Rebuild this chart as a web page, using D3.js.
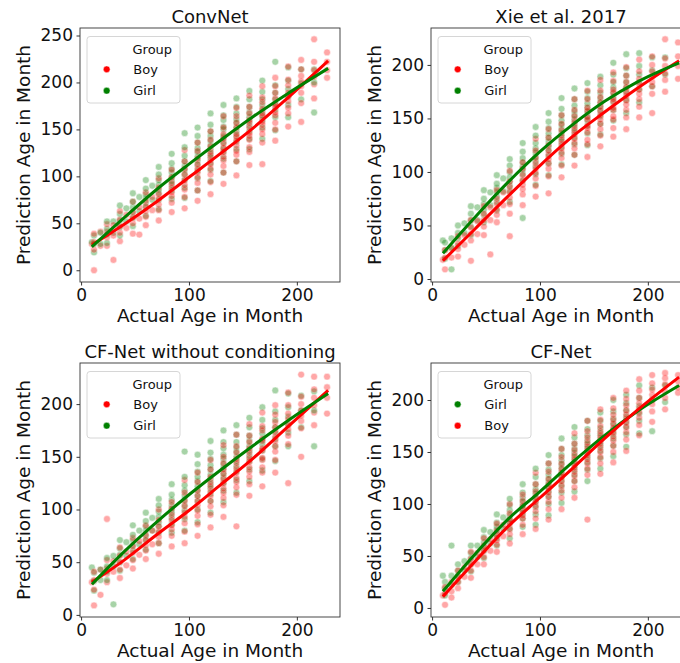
<!DOCTYPE html>
<html>
<head>
<meta charset="utf-8">
<title>Prediction vs actual age by group</title>
<style>
  html, body { margin: 0; padding: 0; background: #fff; }
  svg { display: block; }
  text { font-family: "DejaVu Sans", sans-serif; fill: #111; }
</style>
</head>
<body>
<svg id="chart" width="680" height="663"></svg>
<script src="https://d3js.org/d3.v7.min.js"></script>
<script>
// --- data: each row is [actual age, predicted ages...] ---
const AGE_LIM = [-1, 240];
const X_TICKS = [0, 100, 200];

const CONVNET_BOY = [
  [10, 28], [12, 0, 22, 30, 39], [18, 26, 41], [24, 26, 35, 41, 49], [30, 11, 37, 48],
  [36, 31, 40, 47, 54, 63], [42, 45, 59], [48, 39, 50, 56, 62, 73], [54, 38, 55, 67],
  [60, 48, 57, 63, 68, 74, 83], [66, 64, 78], [72, 53, 64, 70, 76, 81, 88, 98],
  [84, 62, 72, 79, 83, 88, 93, 99, 107],
  [96, 66, 78, 86, 91, 96, 102, 108, 116, 128],
  [108, 74, 85, 93, 99, 104, 108, 113, 119, 127, 136],
  [120, 81, 94, 102, 108, 113, 117, 122, 126, 132, 139, 148],
  [132, 92, 104, 111, 117, 121, 126, 130, 135, 140, 145, 152, 164],
  [144, 101, 116, 123, 127, 133, 138, 142, 145, 152, 157, 164, 173],
  [156, 112, 126, 131, 139, 143, 146, 152, 157, 160, 167, 174, 186],
  [168, 113, 136, 145, 150, 155, 158, 164, 167, 172, 179, 184, 196],
  [180, 138, 150, 157, 165, 168, 174, 177, 183, 189, 196, 205],
  [192, 153, 167, 173, 180, 185, 189, 197, 203, 217],
  [204, 158, 178, 189, 196, 201, 207, 214, 224],
  [216, 183, 198, 206, 213, 222, 246],
  [228, 205, 213, 222, 232]
];
const CONVNET_GIRL = [
  [10, 30], [12, 19, 28, 37], [18, 28, 40], [24, 29, 38, 44, 52], [30, 40, 52],
  [36, 37, 46, 53, 60, 69], [42, 52, 66], [48, 47, 56, 62, 67, 73, 82], [54, 63, 78],
  [60, 58, 67, 72, 77, 81, 87, 96], [66, 75, 90],
  [72, 65, 75, 82, 86, 91, 96, 102, 110],
  [84, 76, 85, 91, 95, 99, 104, 108, 114, 124],
  [96, 77, 88, 96, 102, 107, 111, 116, 122, 131, 146],
  [108, 85, 98, 106, 112, 117, 121, 126, 130, 136, 143, 152],
  [120, 95, 107, 114, 120, 124, 129, 133, 138, 143, 148, 155, 167],
  [132, 104, 119, 126, 130, 136, 141, 143, 150, 153, 160, 165, 176],
  [144, 116, 129, 137, 143, 148, 152, 157, 161, 167, 174, 183],
  [156, 129, 140, 148, 154, 159, 163, 168, 174, 182, 191],
  [168, 140, 152, 160, 165, 170, 176, 182, 190, 202],
  [180, 149, 163, 171, 177, 182, 189, 197, 222],
  [192, 163, 176, 185, 193, 202, 216],
  [204, 182, 199, 214], [216, 168, 200, 214]
];

const XIE_BOY = [
  [10, 18], [12, 9, 20, 27], [18, 20, 29], [24, 21, 28, 33, 40], [30, 32, 41],
  [36, 17, 36, 42, 48, 55], [42, 42, 54], [48, 41, 49, 55, 61, 68], [54, 23, 55, 67],
  [60, 53, 60, 65, 70, 75, 83], [66, 69, 81],
  [72, 40, 61, 70, 76, 81, 86, 91, 101],
  [84, 69, 79, 84, 88, 92, 97, 103, 109],
  [96, 77, 87, 94, 99, 103, 108, 113, 120, 131],
  [108, 80, 96, 103, 108, 112, 116, 120, 125, 132, 140],
  [120, 95, 106, 113, 118, 122, 126, 130, 134, 139, 145, 153],
  [132, 106, 116, 122, 127, 131, 135, 139, 143, 147, 152, 158, 168],
  [144, 114, 126, 130, 137, 141, 143, 149, 151, 157, 160, 168, 176],
  [156, 124, 134, 140, 145, 149, 153, 157, 161, 165, 170, 176, 186],
  [168, 133, 141, 149, 152, 158, 160, 166, 168, 174, 177, 185, 193],
  [180, 140, 151, 158, 163, 167, 171, 175, 179, 184, 190, 198],
  [192, 151, 161, 168, 173, 177, 182, 187, 194, 205],
  [204, 155, 173, 180, 184, 189, 194, 200, 208],
  [216, 175, 186, 192, 199, 206, 224],
  [228, 187, 199, 208, 221]
];
const XIE_GIRL = [
  [10, 36], [12, 19, 27, 34], [18, 9, 29, 38], [24, 31, 38, 43, 50], [30, 43, 52],
  [36, 41, 49, 55, 61, 68], [42, 55, 67], [48, 53, 60, 65, 70, 75, 83], [54, 69, 81],
  [60, 64, 72, 77, 81, 85, 89, 97], [66, 82, 94],
  [72, 72, 82, 87, 91, 95, 100, 106, 112],
  [84, 57, 92, 98, 102, 105, 109, 113, 119, 127],
  [96, 88, 98, 105, 110, 114, 118, 122, 127, 134, 142],
  [108, 97, 108, 115, 120, 124, 128, 132, 136, 141, 147, 155],
  [120, 107, 117, 123, 128, 132, 136, 140, 144, 148, 153, 159, 169],
  [132, 116, 126, 132, 137, 141, 145, 149, 153, 157, 162, 168, 178],
  [144, 125, 136, 143, 148, 152, 156, 160, 164, 169, 175, 183],
  [156, 135, 145, 152, 157, 161, 165, 169, 174, 181, 189],
  [168, 148, 158, 165, 170, 174, 179, 184, 191, 202],
  [180, 155, 167, 174, 179, 184, 190, 197, 210],
  [192, 165, 177, 184, 191, 199, 211],
  [204, 180, 195, 207], [216, 191, 207]
];

const CFNOCOND_BOY = [
  [10, 31], [12, 9, 24, 33, 41], [18, 19, 43], [24, 31, 39, 44, 52, 91], [30, 41, 51],
  [36, 35, 43, 50, 56, 64], [42, 47, 60], [48, 44, 52, 59, 65, 73], [54, 57, 70],
  [60, 53, 61, 66, 71, 76, 85], [66, 67, 80],
  [72, 58, 68, 74, 79, 84, 90, 100],
  [84, 65, 75, 81, 85, 90, 95, 101, 107],
  [96, 68, 79, 87, 93, 97, 103, 108, 116, 128],
  [108, 75, 86, 94, 99, 104, 108, 113, 118, 126, 135],
  [120, 83, 95, 103, 108, 113, 117, 122, 126, 131, 138, 147],
  [132, 93, 104, 111, 116, 120, 125, 129, 134, 138, 144, 150, 161],
  [144, 84, 114, 121, 126, 130, 135, 139, 144, 148, 154, 160, 171],
  [156, 113, 124, 131, 136, 140, 145, 149, 154, 158, 164, 170, 181],
  [168, 122, 135, 140, 147, 149, 156, 158, 165, 167, 175, 179, 192],
  [180, 135, 147, 155, 160, 165, 169, 174, 178, 183, 190, 199],
  [192, 125, 162, 170, 176, 180, 186, 191, 199, 211],
  [204, 150, 177, 184, 189, 194, 200, 207, 228],
  [216, 180, 192, 199, 206, 214, 226],
  [228, 191, 206, 216, 226]
];
const CFNOCOND_GIRL = [
  [10, 45], [12, 23, 32, 40], [18, 33, 43], [24, 33, 41, 46, 54], [30, 10, 46, 56],
  [36, 42, 50, 57, 63, 71], [42, 56, 69], [48, 53, 61, 66, 71, 76, 85], [54, 67, 80],
  [60, 62, 71, 75, 80, 84, 89, 97], [66, 80, 92],
  [72, 68, 78, 84, 88, 93, 98, 104, 110],
  [84, 78, 86, 92, 97, 100, 104, 109, 114, 124],
  [96, 80, 91, 99, 104, 109, 113, 118, 123, 131, 155],
  [108, 88, 100, 108, 113, 118, 122, 127, 131, 136, 143, 152],
  [120, 97, 108, 115, 120, 124, 129, 133, 138, 142, 148, 154, 165],
  [132, 107, 118, 125, 130, 134, 139, 143, 148, 152, 158, 164, 175],
  [144, 116, 128, 136, 141, 146, 150, 155, 159, 164, 171, 180],
  [156, 127, 138, 146, 151, 156, 160, 165, 170, 178, 187],
  [168, 137, 148, 156, 162, 166, 172, 177, 185, 197],
  [180, 146, 160, 167, 173, 178, 185, 193, 213],
  [192, 160, 173, 181, 188, 197, 210],
  [204, 178, 194, 208], [216, 160, 194, 212]
];

const CF_BOY = [
  [10, 12], [12, 3, 14, 20], [18, 10, 16, 25], [24, 19, 25, 30, 36], [30, 30, 39],
  [36, 29, 36, 42, 47, 54], [42, 42, 53], [48, 42, 49, 55, 60, 67], [54, 55, 66],
  [60, 54, 61, 65, 69, 74, 81], [66, 69, 80],
  [72, 62, 71, 76, 81, 85, 91, 100],
  [84, 71, 80, 86, 89, 93, 98, 103, 109],
  [96, 76, 86, 93, 98, 102, 107, 112, 119, 130],
  [108, 85, 95, 102, 107, 111, 115, 119, 124, 131, 139],
  [120, 95, 106, 113, 118, 122, 126, 130, 134, 139, 145, 153],
  [132, 106, 116, 122, 127, 131, 135, 139, 143, 147, 152, 158, 168],
  [144, 85, 128, 134, 139, 143, 147, 151, 155, 159, 164, 170, 180],
  [156, 129, 139, 145, 150, 154, 158, 162, 166, 170, 175, 181, 191],
  [168, 140, 150, 156, 161, 165, 169, 173, 177, 181, 186, 192, 202],
  [180, 151, 162, 169, 174, 178, 182, 186, 190, 195, 201, 209],
  [192, 166, 176, 183, 188, 192, 197, 202, 209, 220],
  [204, 179, 189, 196, 200, 205, 210, 216, 224],
  [216, 191, 202, 208, 215, 221, 226],
  [228, 207, 212, 218, 224]
];
const CF_GIRL = [
  [10, 31], [12, 12, 19, 25], [18, 22, 31, 60], [24, 25, 31, 36, 42], [30, 36, 45],
  [36, 35, 42, 48, 53, 60], [42, 49, 60], [48, 48, 55, 59, 63, 68, 75], [54, 62, 73],
  [60, 60, 67, 71, 75, 78, 82, 90], [66, 76, 87],
  [72, 67, 76, 82, 85, 89, 94, 99, 105],
  [84, 78, 86, 91, 95, 98, 102, 106, 111, 119],
  [96, 80, 90, 97, 102, 106, 110, 114, 119, 126, 134],
  [108, 89, 100, 107, 112, 116, 120, 124, 128, 133, 139, 147],
  [120, 101, 111, 117, 122, 126, 130, 134, 138, 142, 147, 153, 163],
  [132, 112, 122, 128, 133, 137, 141, 145, 149, 153, 158, 164, 174],
  [144, 122, 133, 140, 145, 149, 153, 157, 161, 166, 172, 180],
  [156, 134, 144, 151, 156, 160, 164, 168, 173, 180, 188],
  [168, 146, 156, 163, 168, 172, 177, 182, 189, 200],
  [180, 155, 167, 174, 179, 184, 190, 197, 205],
  [192, 168, 180, 187, 194, 202, 214],
  [204, 170, 200, 212], [216, 198, 214]
];

// smoothed fit per group, sampled at these ages
const FIT_AGES = [10, 40, 70, 100, 130, 160, 190, 229];
const CONVNET_BOY_FIT  = [27, 49, 73, 99, 125, 152, 182, 223];
const CONVNET_GIRL_FIT = [25, 56, 86, 113, 139, 164, 187, 215];
const XIE_BOY_FIT      = [17, 47, 77, 106, 133, 156, 178, 204];
const XIE_GIRL_FIT     = [24, 58, 90, 119, 144, 166, 184, 202];
const CFNOCOND_BOY_FIT  = [31, 52, 76, 99, 124, 149, 177, 213];
const CFNOCOND_GIRL_FIT = [29, 60, 88, 114, 138, 161, 183, 210];
const CF_BOY_FIT  = [11, 45, 78, 106, 134, 163, 190, 222];
const CF_GIRL_FIT = [16, 52, 85, 112, 140, 166, 189, 214];

const TITLES = ["ConvNet", "Xie et al. 2017", "CF-Net without conditioning", "CF-Net"];
const Y_LIMS = [[-12.5, 258], [-2.8, 234.5], [-2, 239], [-8.7, 235.6]];
const Y_TICKS = [[0, 50, 100, 150, 200, 250], [0, 50, 100, 150, 200], [0, 50, 100, 150, 200], [0, 50, 100, 150, 200]];
const HUE_ORDER = [["Boy", "Girl"], ["Boy", "Girl"], ["Boy", "Girl"], ["Girl", "Boy"]];

// --- layout ---
const W = 260, H = 254;
const ORIGINS = [[80, 28], [431, 28], [80, 363], [431, 363]];
const COLOR = { Boy: "#ff0000", Girl: "#008000" };

const panels = [
  { boy: CONVNET_BOY, girl: CONVNET_GIRL, boyFit: CONVNET_BOY_FIT, girlFit: CONVNET_GIRL_FIT },
  { boy: XIE_BOY, girl: XIE_GIRL, boyFit: XIE_BOY_FIT, girlFit: XIE_GIRL_FIT },
  { boy: CFNOCOND_BOY, girl: CFNOCOND_GIRL, boyFit: CFNOCOND_BOY_FIT, girlFit: CFNOCOND_GIRL_FIT },
  { boy: CF_BOY, girl: CF_GIRL, boyFit: CF_BOY_FIT, girlFit: CF_GIRL_FIT }
];

const svg = d3.select("#chart");
const defs = svg.append("defs");

panels.forEach((p, i) => {
  const [ox, oy] = ORIGINS[i];
  const order = HUE_ORDER[i];
  const g = svg.append("g").attr("transform", `translate(${ox},${oy})`);
  const x = d3.scaleLinear().domain(AGE_LIM).range([0, W]);
  const y = d3.scaleLinear().domain(Y_LIMS[i]).range([H, 0]);

  defs.append("clipPath").attr("id", "clip" + i)
    .append("rect").attr("width", W).attr("height", H);

  // mix the two groups column by column so neither colour sits fully on top
  const byAge = { Boy: new Map(p.boy.map(r => [r[0], r.slice(1)])),
                  Girl: new Map(p.girl.map(r => [r[0], r.slice(1)])) };
  const ages = Array.from(new Set([...byAge.Boy.keys(), ...byAge.Girl.keys()])).sort((a, b) => a - b);
  const pts = [];
  ages.forEach(a => {
    const A = byAge[order[0]].get(a) || [], B = byAge[order[1]].get(a) || [];
    for (let k = 0; k < Math.max(A.length, B.length); k++) {
      if (k < A.length) pts.push({ age: a, pred: A[k], grp: order[0] });
      if (k < B.length) pts.push({ age: a, pred: B[k], grp: order[1] });
    }
  });

  const plot = g.append("g").attr("clip-path", `url(#clip${i})`);
  plot.selectAll("circle").data(pts).join("circle")
    .attr("cx", d => x(d.age)).attr("cy", d => y(d.pred)).attr("r", 3.4)
    .attr("fill", d => COLOR[d.grp]).attr("stroke", "#fff").attr("stroke-width", 0.5)
    .attr("opacity", 0.34);

  const line = d3.line().x((d, k) => x(FIT_AGES[k])).y(d => y(d)).curve(d3.curveMonotoneX);
  order.forEach(grp => {
    plot.append("path").datum(grp === "Boy" ? p.boyFit : p.girlFit)
      .attr("d", line).attr("fill", "none")
      .attr("stroke", COLOR[grp]).attr("stroke-width", 3);
  });

  // axes
  const xa = g.append("g").attr("transform", `translate(0,${H})`)
    .call(d3.axisBottom(x).tickValues(X_TICKS).tickSize(3.5).tickPadding(3.5).tickSizeOuter(0));
  const ya = g.append("g")
    .call(d3.axisLeft(y).tickValues(Y_TICKS[i]).tickSize(3.5).tickPadding(3.5).tickSizeOuter(0));
  [xa, ya].forEach(a => {
    a.select(".domain").remove();
    a.attr("font-size", 17).attr("font-family", "DejaVu Sans").attr("color", "#111");
    a.selectAll("line").attr("stroke", "#333");
  });

  g.append("rect").attr("width", W).attr("height", H)
    .attr("fill", "none").attr("stroke", "#333").attr("stroke-width", 0.9);

  g.append("text").attr("x", W / 2).attr("y", -5.5).attr("text-anchor", "middle")
    .attr("font-size", 18).text(TITLES[i]);
  g.append("text").attr("x", W / 2).attr("y", H + 40).attr("text-anchor", "middle")
    .attr("font-size", 18.5).text("Actual Age in Month");
  g.append("text").attr("transform", `translate(-50,${H / 2}) rotate(-90)`)
    .attr("text-anchor", "middle").attr("font-size", 18.5).text("Prediction Age in Month");

  // legend
  const lg = g.append("g").attr("transform", "translate(7,8.5)");
  lg.append("rect").attr("width", 93).attr("height", 66.5).attr("rx", 3)
    .attr("fill", "#fff").attr("fill-opacity", 0.8).attr("stroke", "#d6d6d6");
  lg.append("text").attr("x", 45.5).attr("y", 17).attr("font-size", 13).text("Group");
  order.forEach((grp, k) => {
    lg.append("circle").attr("cx", 19.7).attr("cy", 32.8 + k * 21.4).attr("r", 3.4)
      .attr("fill", COLOR[grp]).attr("stroke", "#fff").attr("stroke-width", 0.5);
    lg.append("text").attr("x", 46.3).attr("y", 37.5 + k * 21.4).attr("font-size", 13).text(grp);
  });
});
</script>
</body>
</html>
